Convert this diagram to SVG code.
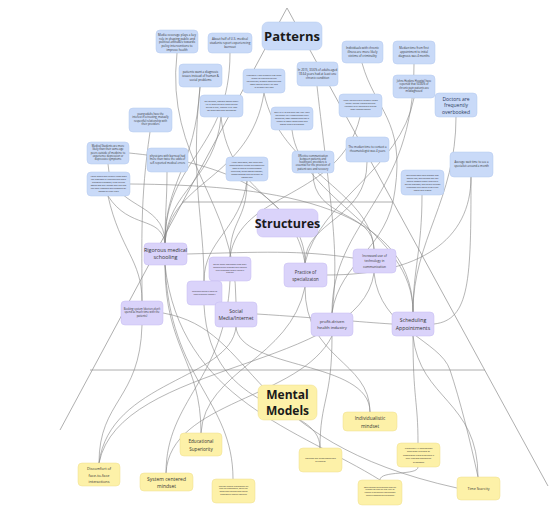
<svg xmlns="http://www.w3.org/2000/svg" width="556" height="510" viewBox="0 0 556 510">
<style>
.tri{stroke:#9a9a9a;stroke-width:0.8;fill:none}
.c path{stroke:#858585;stroke-width:0.6;fill:none}
.bl rect{fill:#c9daf8;stroke:#b3c8ee;stroke-width:0.5}
.pu rect{fill:#dad3fa;stroke:#c4baf0;stroke-width:0.5}
.ye rect{fill:#fdf1a8;stroke:#eedf8c;stroke-width:0.5}
text{font-family:"Open Sans","Liberation Sans",sans-serif;fill:#333;text-anchor:middle}
.h{font-weight:bold;fill:#1a1a1a}
</style>
<rect width="556" height="510" fill="#fff"/>
<g id="frame">
<line class="tri" x1="287" y1="8" x2="60" y2="430"/>
<line class="tri" x1="287" y1="8" x2="548" y2="486"/>
<line class="tri" x1="182" y1="202" x2="393" y2="202"/>
<line class="tri" x1="90" y1="370" x2="485" y2="370"/>
</g>
<g id="connectors" class="c">
<path d="M177,53 C165,160 236,200 236,302"/>
<path d="M230,53 C230,150 165,160 165,243"/>
<path d="M200,87 C195,170 165,180 165,243"/>
<path d="M150,132 C140,200 142,240 142,301"/>
<path d="M108,164 C110,210 165,200 165,243"/>
<path d="M167,172 C167,200 165,215 165,243"/>
<path d="M108,196 C130,230 160,215 165,243"/>
<path d="M108,196 C120,250 142,260 142,301"/>
<path d="M264,93 C250,180 170,180 165,243"/>
<path d="M221,117 C215,180 168,190 165,243"/>
<path d="M221,117 C230,200 305,200 305,263"/>
<path d="M247,181 C247,220 230,220 230,257"/>
<path d="M247,181 C240,230 204,240 204,281"/>
<path d="M313,173 C313,220 374,210 374,249"/>
<path d="M367,162 C367,220 305,220 305,263"/>
<path d="M471,177 C471,280 470,320 434,324"/>
<path d="M456,117 C456,200 413,240 413,312"/>
<path d="M414,64 C414,200 332,220 332,313"/>
<path d="M414,98 C400,170 320,200 305,263"/>
<path d="M362,63 C375,110 405,120 395,190 C388,250 340,260 332,313"/>
<path d="M360,117 C340,200 240,190 230,257"/>
<path d="M317,86 C330,200 340,250 332,313"/>
<path d="M292,130 C300,200 413,230 413,312"/>
<path d="M422,195 C422,250 413,270 413,312"/>
<path d="M200,87 C190,180 204,220 204,281"/>
<path d="M264,93 C280,170 370,190 374,249"/>
<path d="M130,184 C260,185 413,200 413,312"/>
<path d="M129,153 C200,160 290,180 305,263"/>
<path d="M187,254 C260,252 300,250 353,258"/>
<path d="M327,275 C420,275 471,240 471,177"/>
<path d="M257,314 C320,318 360,322 392,324"/>
<path d="M165,265 C165,350 201,360 201,433"/>
<path d="M165,265 C170,380 233,400 233,479"/>
<path d="M142,325 C140,400 99,400 99,463"/>
<path d="M236,327 C230,380 110,380 99,463"/>
<path d="M236,327 C240,370 370,360 370,412"/>
<path d="M332,336 C332,400 320,400 320,448"/>
<path d="M332,336 C300,400 170,400 166,473"/>
<path d="M413,336 C420,400 478,400 478,477"/>
<path d="M413,336 C413,400 418,400 418,443"/>
<path d="M305,287 C305,360 370,360 370,412"/>
<path d="M305,287 C290,360 205,370 201,433"/>
<path d="M374,273 C360,370 120,360 99,463"/>
<path d="M418,467 C418,476 380,470 380,480"/>
<path d="M230,281 C225,380 166,400 166,473"/>
<path d="M204,305 C210,420 320,400 320,448"/>
<path d="M163,313 C260,330 240,440 457,488"/>
<path d="M165,265 C180,400 300,430 380,480"/>
<path d="M374,273 C380,330 440,340 450,370 C460,400 470,440 478,477"/>
</g>
<g id="patterns" class="bl"><rect x="262" y="22" width="60" height="28" rx="6"/><text class="h" x="292" y="41" font-size="13">Patterns</text></g>
<g id="structures" class="pu"><rect x="257" y="209" width="61" height="28" rx="6"/><text class="h" x="287.5" y="228" font-size="12.5">Structures</text></g>
<g id="mental-models" class="ye"><rect x="258" y="385" width="59" height="35" rx="6"/><text class="h" x="287.5" y="399" font-size="12">Mental</text><text class="h" x="287.5" y="414.5" font-size="12">Models</text></g>

<g id="b1" class="bl"><rect x="156" y="30" width="42" height="23" rx="4"/><text font-size="3" y="35.8"><tspan x="177">Media coverage plays a key</tspan><tspan x="177" dy="3.7">role in shaping public and</tspan><tspan x="177" dy="3.7">political attitudes towards</tspan><tspan x="177" dy="3.7">policy interventions to</tspan><tspan x="177" dy="3.7">improve health</tspan></text></g>
<g id="b2" class="bl"><rect x="208" y="33" width="44" height="20" rx="4"/><text font-size="3" y="40"><tspan x="230">About half of U.S. medical</tspan><tspan x="230" dy="4">students report experiencing</tspan><tspan x="230" dy="4">burnout</tspan></text></g>
<g id="b3" class="bl"><rect x="179" y="64" width="43" height="23" rx="4"/><text font-size="3" y="72.5"><tspan x="200.5">patients want a diagnosis</tspan><tspan x="200.5" dy="4">issues instead of human &amp;</tspan><tspan x="200.5" dy="4">social problems</tspan></text></g>
<g id="b4" class="bl"><rect x="243" y="69" width="42" height="24" rx="4"/><text font-size="2.2" y="75.5"><tspan x="264">Providers' time pressure has been</tspan><tspan x="264" dy="3">linked to reduced patient</tspan><tspan x="264" dy="3">satisfaction, missed concerns and</tspan><tspan x="264" dy="3">lower overall quality of care</tspan><tspan x="264" dy="3">in primary settings</tspan></text></g>
<g id="b5" class="bl"><rect x="297" y="62" width="41" height="24" rx="4"/><text font-size="2.9" y="70.5"><tspan x="317.5">In 2015, 33.6% of adults aged</tspan><tspan x="317.5" dy="4">18-64 years had at least one</tspan><tspan x="317.5" dy="4">chronic condition</tspan></text></g>
<g id="b6" class="bl"><rect x="200" y="95" width="43" height="22" rx="4"/><text font-size="2.2" y="101.5"><tspan x="221.5">On average, doctors spend about</tspan><tspan x="221.5" dy="3">13-16 minutes with each patient</tspan><tspan x="221.5" dy="3">during a visit, leaving little time</tspan><tspan x="221.5" dy="3">for questions and discussion</tspan></text></g>
<g id="b7" class="bl"><rect x="271" y="107" width="42" height="23" rx="4"/><text font-size="2.2" y="113"><tspan x="292">Only 21% of patients feel that their</tspan><tspan x="292" dy="3">physician fully understands their</tspan><tspan x="292" dy="3">concerns; poor communication is</tspan><tspan x="292" dy="3">linked to lower adherence and</tspan><tspan x="292" dy="3">worse health outcomes</tspan></text></g>
<g id="b8" class="bl"><rect x="342" y="41" width="41" height="22" rx="4"/><text font-size="3" y="48.5"><tspan x="362.5">Individuals with chronic</tspan><tspan x="362.5" dy="4">illness are more likely</tspan><tspan x="362.5" dy="4">victims of criminality</tspan></text></g>
<g id="b9" class="bl"><rect x="393" y="41" width="42" height="23" rx="4"/><text font-size="2.8" y="49"><tspan x="414">Median time from first</tspan><tspan x="414" dy="3.8">appointment to initial</tspan><tspan x="414" dy="3.8">diagnosis was 4 months</tspan></text></g>
<g id="b10" class="bl"><rect x="393" y="75" width="42" height="23" rx="4"/><text font-size="2.6" y="81.5"><tspan x="414">Johns Hopkins Hospital have</tspan><tspan x="414" dy="3.5">reported that 50-80% of</tspan><tspan x="414" dy="3.5">chronic pain patients are</tspan><tspan x="414" dy="3.5">misdiagnosed</tspan></text></g>
<g id="b11" class="bl"><rect x="435" y="93" width="42" height="24" rx="4"/><text font-size="5" y="100.5" style="fill:#2e3b5c"><tspan x="456">Doctors are</tspan><tspan x="456" dy="6.6">frequently</tspan><tspan x="456" dy="6.6">overbooked</tspan></text></g>
<g id="b12" class="bl"><rect x="339" y="94" width="43" height="23" rx="4"/><text font-size="2.2" y="101"><tspan x="360.5">Many patients with chronic illness</tspan><tspan x="360.5" dy="3">report feeling rushed and not</tspan><tspan x="360.5" dy="3">listened to by specialists during</tspan><tspan x="360.5" dy="3">short appointments</tspan></text></g>
<g id="b13" class="bl"><rect x="129" y="108" width="43" height="24" rx="4"/><text font-size="2.6" y="114.5"><tspan x="150.5">young adults have the</tspan><tspan x="150.5" dy="3.5">interest in a trusting, mutually</tspan><tspan x="150.5" dy="3.5">respectful relationship with</tspan><tspan x="150.5" dy="3.5">their providers</tspan></text></g>
<g id="b14" class="bl"><rect x="87" y="142" width="42" height="22" rx="4"/><text font-size="2.6" y="147"><tspan x="108">Medical Students are more</tspan><tspan x="108" dy="3.3">likely than their same-age</tspan><tspan x="108" dy="3.3">peers outside of medicine to</tspan><tspan x="108" dy="3.3">experience depression or</tspan><tspan x="108" dy="3.3">depressive symptoms</tspan></text></g>
<g id="b15" class="bl"><rect x="147" y="148" width="41" height="24" rx="4"/><text font-size="2.7" y="156.5"><tspan x="167.5">physicians with burnout had</tspan><tspan x="167.5" dy="3.6">more than twice the odds of</tspan><tspan x="167.5" dy="3.6">self-reported medical errors</tspan></text></g>
<g id="b16" class="bl"><rect x="87" y="172" width="43" height="24" rx="4"/><text font-size="2" y="177"><tspan x="108.5">Young people with chronic illness often</tspan><tspan x="108.5" dy="3">feel dismissed by providers and avoid</tspan><tspan x="108.5" dy="3">disclosing symptoms; a lack of trust</tspan><tspan x="108.5" dy="3">affects how they engage with care and</tspan><tspan x="108.5" dy="3">can delay diagnosis and treatment for</tspan><tspan x="108.5" dy="3">months or even years</tspan></text></g>
<g id="b17" class="bl"><rect x="226" y="157" width="42" height="24" rx="4"/><text font-size="2" y="162.5"><tspan x="247">Heavy workloads, long hours and</tspan><tspan x="247" dy="3">administrative burden are among the</tspan><tspan x="247" dy="3">main drivers of burnout among</tspan><tspan x="247" dy="3">physicians, which affects empathy,</tspan><tspan x="247" dy="3">communication and the quality of</tspan><tspan x="247" dy="3">patient care</tspan></text></g>
<g id="b18" class="bl"><rect x="292" y="151" width="42" height="22" rx="4"/><text font-size="2.6" y="156.5"><tspan x="313">Effective communication</tspan><tspan x="313" dy="3.3">between patients and</tspan><tspan x="313" dy="3.3">healthcare providers is</tspan><tspan x="313" dy="3.3">essential for the provision of</tspan><tspan x="313" dy="3.3">patient care and recovery</tspan></text></g>
<g id="b19" class="bl"><rect x="346" y="137" width="43" height="25" rx="4"/><text font-size="2.8" y="148"><tspan x="367.5">The median time to contact a</tspan><tspan x="367.5" dy="4">rheumatologist was 4 years</tspan></text></g>
<g id="b20" class="bl"><rect x="450" y="152" width="43" height="25" rx="4"/><text font-size="2.8" y="163"><tspan x="471.5">Average wait time to see a</tspan><tspan x="471.5" dy="4">specialist: around a month</tspan></text></g>
<g id="b21" class="bl"><rect x="401" y="170" width="43" height="25" rx="4"/><text font-size="2" y="176"><tspan x="422.5">Specialists often have months-long</tspan><tspan x="422.5" dy="3">waiting lists, and patients may see</tspan><tspan x="422.5" dy="3">several doctors before receiving a</tspan><tspan x="422.5" dy="3">correct diagnosis; long delays increase</tspan><tspan x="422.5" dy="3">frustration and reduce trust in the</tspan><tspan x="422.5" dy="3">health care system</tspan></text></g>

<g id="p1" class="pu"><rect x="144" y="243" width="43" height="22" rx="4"/><text font-size="5.4" y="252"><tspan x="165.5">Rigorous medical</tspan><tspan x="165.5" dy="7">schooling</tspan></text></g>
<g id="p2" class="pu"><rect x="209" y="257" width="42" height="24" rx="4"/><text font-size="1.9" y="265"><tspan x="230">Online health information leads many</tspan><tspan x="230" dy="2.8">patients to self-diagnose and research</tspan><tspan x="230" dy="2.8">their symptoms before visiting a</tspan><tspan x="230" dy="2.8">provider</tspan></text></g>
<g id="p3" class="pu"><rect x="187" y="281" width="35" height="24" rx="4"/><text font-size="1.9" y="292"><tspan x="204.5">Telehealth makes it easier to</tspan><tspan x="204.5" dy="2.8">reach providers remotely</tspan></text></g>
<g id="p4" class="pu"><rect x="215" y="302" width="42" height="25" rx="4"/><text font-size="5" y="312.5"><tspan x="236">Social</tspan><tspan x="236" dy="7">Media/Internet</tspan></text></g>
<g id="p5" class="pu"><rect x="121" y="301" width="42" height="24" rx="4"/><text font-size="2.6" y="309.5"><tspan x="142">Booking system (doctors don't</tspan><tspan x="142" dy="3.5">spend as much time with the</tspan><tspan x="142" dy="3.5">patients)</tspan></text></g>
<g id="p6" class="pu"><rect x="284" y="263" width="43" height="24" rx="4"/><text font-size="4.4" y="274"><tspan x="305.5">Practice of</tspan><tspan x="305.5" dy="6.5">specializaton</tspan></text></g>
<g id="p7" class="pu"><rect x="353" y="249" width="43" height="24" rx="4"/><text font-size="3.2" y="256.5"><tspan x="374.5">Increased use of</tspan><tspan x="374.5" dy="5.5">technology in</tspan><tspan x="374.5" dy="5.5">communication</tspan></text></g>
<g id="p8" class="pu"><rect x="311" y="313" width="42" height="23" rx="4"/><text font-size="4.2" y="322.5"><tspan x="332">profit-driven</tspan><tspan x="332" dy="6">health industry</tspan></text></g>
<g id="p9" class="pu"><rect x="392" y="312" width="42" height="24" rx="4"/><text font-size="5.2" y="322"><tspan x="413">Scheduling</tspan><tspan x="413" dy="7.5">Appointments</tspan></text></g>

<g id="y1" class="ye"><rect x="180" y="433" width="42" height="23" rx="4"/><text font-size="4.6" y="443"><tspan x="201">Educational</tspan><tspan x="201" dy="8">Superiority</tspan></text></g>
<g id="y2" class="ye"><rect x="78" y="463" width="42" height="23" rx="4"/><text font-size="3.8" y="470"><tspan x="99">Discomfort of</tspan><tspan x="99" dy="6.5">face-to-face</tspan><tspan x="99" dy="6.5">interactions</tspan></text></g>
<g id="y3" class="ye"><rect x="140" y="473" width="53" height="18" rx="4"/><text font-size="5" y="480.5"><tspan x="166.5">System centered</tspan><tspan x="166.5" dy="7.5">mindset</tspan></text></g>
<g id="y4" class="ye"><rect x="212" y="479" width="43" height="24" rx="4"/><text font-size="1.9" y="486.5"><tspan x="233.5">Provider-patient relationships are</tspan><tspan x="233.5" dy="2.8">seen as transactional, which can</tspan><tspan x="233.5" dy="2.8">discourage patients from asking</tspan><tspan x="233.5" dy="2.8">questions or sharing concerns</tspan></text></g>
<g id="y5" class="ye"><rect x="343" y="412" width="54" height="19" rx="4"/><text font-size="4.8" y="420"><tspan x="370">Individualistic</tspan><tspan x="370" dy="7.5">mindset</tspan></text></g>
<g id="y6" class="ye"><rect x="299" y="448" width="43" height="24" rx="4"/><text font-size="2.3" y="459"><tspan x="320.5">Patients feel suppressed/out</tspan><tspan x="320.5" dy="3.2">of control</tspan></text></g>
<g id="y7" class="ye"><rect x="397" y="443" width="43" height="24" rx="4"/><text font-size="2.3" y="449"><tspan x="418.5">Chronically ill adolescents</tspan><tspan x="418.5" dy="3.4">anticipate criticism or</tspan><tspan x="418.5" dy="3.4">disapproval from providers if</tspan><tspan x="418.5" dy="3.4">they disclose worsening</tspan><tspan x="418.5" dy="3.4">symptoms</tspan></text></g>
<g id="y8" class="ye"><rect x="358" y="480" width="44" height="25" rx="4"/><text font-size="1.9" y="487.5"><tspan x="380">Both patients and providers who are</tspan><tspan x="380" dy="2.8">pressed for time are less likely to</tspan><tspan x="380" dy="2.8">engage in meaningful conversation</tspan><tspan x="380" dy="2.8">about symptoms and treatment</tspan></text></g>
<g id="y9" class="ye"><rect x="457" y="477" width="43" height="23" rx="4"/><text font-size="3.6" x="478.5" y="490">Time Scarcity</text></g>
</svg>
